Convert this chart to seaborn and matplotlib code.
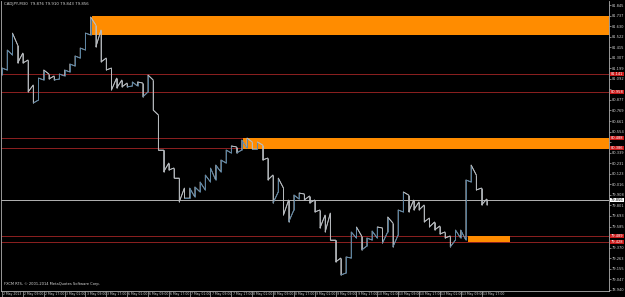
import numpy as np
import pandas as pd
import matplotlib
matplotlib.use("Agg")
import matplotlib.pyplot as plt
import matplotlib.transforms as mtransforms
from matplotlib.collections import LineCollection
from matplotlib.patches import Rectangle
import seaborn as sns

# ---------------- data ----------------
symbol_info = "CADJPY,M30  79.876 79.910 79.843 79.856"
copyright_text = "FXCM RTS, \u00a9 2001-2014 MetaQuotes Software Corp."

bars_per_sample = 4  # each sample = 4 x M30 bars (2 hours)

highs = [81.202, 81.386, 81.559, 81.437, 81.355, 81.284, 81.029, 81.100, 81.182, 81.141,
         81.121, 81.141, 81.182, 81.243, 81.325, 81.406, 81.559, 81.723, 81.641, 81.590,
         81.304, 81.202, 81.100, 81.080, 81.049, 81.060, 81.060, 81.049, 81.131, 81.080,
         80.723, 80.366, 80.233, 80.182, 80.080, 79.978, 79.978, 79.989, 80.040, 80.111,
         80.182, 80.213, 80.264, 80.366, 80.407, 80.397, 80.468, 80.488, 80.448, 80.448,
         80.417, 80.284, 80.111, 80.080, 79.978, 79.856, 79.907, 79.927, 79.917, 79.897,
         79.856, 79.754, 79.703, 79.723, 79.448, 79.264, 79.275, 79.530, 79.581, 79.489,
         79.468, 79.540, 79.581, 79.570, 79.683, 79.621, 79.754, 79.938, 79.907, 79.856,
         79.836, 79.805, 79.672, 79.632, 79.591, 79.530, 79.489, 79.550, 79.550, 80.060,
         80.213, 80.111, 79.978, 79.866]
lows = [81.131, 81.182, 81.335, 81.253, 81.253, 80.958, 80.845, 80.876, 81.080, 81.090,
        81.080, 81.090, 81.121, 81.162, 81.223, 81.304, 81.386, 81.539, 81.417, 81.264,
        81.182, 80.978, 80.998, 81.009, 81.009, 81.019, 81.019, 80.907, 80.958, 80.774,
        80.366, 80.142, 80.162, 80.080, 79.836, 79.876, 79.876, 79.887, 79.938, 79.958,
        80.040, 80.060, 80.142, 80.233, 80.335, 80.335, 80.366, 80.386, 80.376, 80.376,
        80.264, 80.060, 79.825, 79.938, 79.703, 79.632, 79.754, 79.866, 79.856, 79.825,
        79.734, 79.570, 79.530, 79.448, 79.224, 79.091, 79.111, 79.264, 79.468, 79.346,
        79.387, 79.448, 79.468, 79.417, 79.530, 79.377, 79.499, 79.734, 79.734, 79.754,
        79.754, 79.632, 79.581, 79.550, 79.509, 79.468, 79.377, 79.448, 79.468, 79.448,
        80.040, 79.958, 79.805, 79.805]

time_labels = ["2 May 2013", "2 May 09:00", "2 May 17:00", "3 May 01:00", "3 May 09:00",
               "3 May 17:00", "6 May 01:00", "6 May 09:00", "6 May 17:00", "7 May 01:00",
               "7 May 09:00", "7 May 17:00", "8 May 01:00", "8 May 09:00", "8 May 17:00",
               "9 May 01:00", "9 May 09:00", "9 May 17:00", "10 May 01:00", "10 May 09:00",
               "10 May 17:00", "13 May 01:00", "13 May 09:00", "13 May 17:00"]
bars_per_label = 16

price_ticks = [81.845, 81.737, 81.630, 81.522, 81.415, 81.307, 81.199, 81.092, 80.984,
               80.877, 80.769, 80.661, 80.554, 80.446, 80.339, 80.231, 80.123, 80.016,
               79.908, 79.801, 79.693, 79.585, 79.478, 79.370, 79.263, 79.155, 79.047,
               78.940]

level_lines = [81.141, 80.958, 80.488, 80.386, 79.489, 79.428]
current_price = 79.856

zone_start = [69, 185, 358]          # bar index where each zone starts
zone_end = [None, None, 390]         # None = extends to the right edge
zone_top = [81.733, 80.488, 79.489]
zone_bottom = [81.539, 80.376, 79.428]

# ---------------- figure ----------------
sns.set_theme(style="dark", rc={"axes.facecolor": "black", "figure.facecolor": "black",
                                "axes.grid": False})
plt.rcParams["font.family"] = ["DejaVu Sans"]

W, H = 625, 297
fig = plt.figure(figsize=(W / 100, H / 100), dpi=100)
px_top, px_bot, px_left, px_right = 1, 290.5, 1, 609
ax = fig.add_axes([px_left / W, 1 - px_bot / H, (px_right - px_left) / W, (px_bot - px_top) / H])
ax.set_facecolor("black")

ppb = 1.303  # pixels per M30 bar
ax.set_xlim((px_left - 2) / ppb, (px_right - 2) / ppb)
ax.set_ylim(81.896 - 0.0102 * px_bot, 81.896 - 0.0102 * px_top)

# zones
x_right = ax.get_xlim()[1] + 5
for s, e, t_, b in zip(zone_start, zone_end, zone_top, zone_bottom):
    e = x_right if e is None else e
    ax.add_patch(Rectangle((s, b), e - s, t_ - b, facecolor="#ff8c00", edgecolor="none", zorder=2))

# level lines
for lv in level_lines:
    ax.axhline(lv, color="#8e2020", lw=0.7, zorder=1)
ax.axhline(current_price, color="#b4b4b4", lw=0.7, zorder=1)

# price path
t = np.arange(len(highs)) * bars_per_sample
mids = (np.array(highs) + np.array(lows)) / 2
px, py = [], []
up_col, dn_col = "#5a84a3", "#b8bcc0"
segs, segcols = [], []
prev_end = None
for i in range(len(highs)):
    up = i == 0 or mids[i] >= mids[i - 1]
    start, end = (lows[i], highs[i]) if up else (highs[i], lows[i])
    c = up_col if up else dn_col
    if prev_end is not None:
        segs.append([(t[i - 1], prev_end), (t[i], start)])
        segcols.append(c)
    segs.append([(t[i], start), (t[i], end)])
    segcols.append(c)
    px += [t[i], t[i]]
    py += [start, end]
    prev_end = end

path_df = pd.DataFrame({"time": px, "price": py})
sns.lineplot(data=path_df, x="time", y="price", sort=False, estimator=None,
             color=dn_col, lw=0.6, ax=ax, zorder=3)
ax.add_collection(LineCollection(segs, colors=segcols, linewidths=0.65, zorder=4))

# axes styling
ax.spines["top"].set_visible(False)
for side in ["left", "right", "bottom"]:
    ax.spines[side].set_color("#b0b0b0")
    ax.spines[side].set_linewidth(0.6)

# hide tick labels that the price tags cover
tagged = level_lines + [current_price]
shown = ["" if any(abs(v - lv) < 0.045 for lv in tagged) else f"{v:.3f}" for v in price_ticks]
ax.yaxis.tick_right()
ax.set_yticks(price_ticks)
ax.set_yticklabels(shown)
ax.tick_params(axis="y", length=1.5, width=0.5, colors="#b0b0b0", labelcolor="#d0d0d0",
               labelsize=2.6, pad=0.6, right=True, left=False)

xt = np.arange(len(time_labels)) * bars_per_label
ax.set_xticks(xt)
ax.set_xticklabels(time_labels)
ax.tick_params(axis="x", length=4, width=0.5, colors="#b0b0b0", labelcolor="#d0d0d0",
               labelsize=2.25, pad=-3.0, bottom=True, direction="out")
for lbl in ax.get_xticklabels():
    lbl.set_ha("left")
    lbl.set_transform(lbl.get_transform() + mtransforms.ScaledTranslation(1.2 / 100, 0, fig.dpi_scale_trans))
ax.set_xlabel("")
ax.set_ylabel("")

# price tags on the right axis
trans = mtransforms.blended_transform_factory(ax.transAxes, ax.transData)
for lv in level_lines:
    ax.text(1.003, lv, f"{lv:.3f}", transform=trans, ha="left", va="center", fontsize=2.6,
            color="white", clip_on=False, zorder=6,
            bbox=dict(boxstyle="square,pad=0.12", fc="#c81818", ec="none"))
ax.text(1.003, current_price, f"{current_price:.3f}", transform=trans, ha="left", va="center",
        fontsize=2.6, color="black", clip_on=False, zorder=6,
        bbox=dict(boxstyle="square,pad=0.12", fc="white", ec="none"))

fig.text(4 / W, 1 - 2 / H, symbol_info, ha="left", va="top", fontsize=2.8, color="#d8d8d8")
fig.text(4 / W, 1 - 284 / H, copyright_text, ha="left", va="center", fontsize=2.6, color="#d8d8d8")

fig.savefig("out.png", dpi=100, facecolor="black")
